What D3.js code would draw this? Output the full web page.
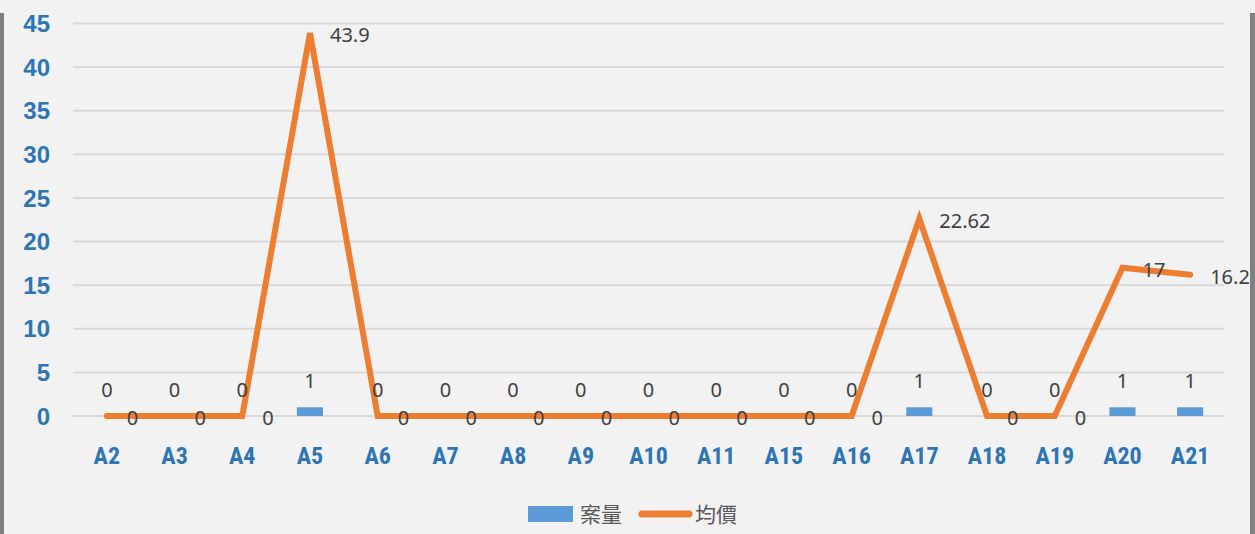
<!DOCTYPE html>
<html>
<head>
<meta charset="utf-8">
<script src="https://cdn.jsdelivr.net/npm/d3@7"></script>
<style>
  html, body { margin: 0; padding: 0; background: #f2f2f2; }
  svg { display: block; }
</style>
</head>
<body>
<svg id="chart" width="1255" height="534"></svg>
<script>
// chart data
const categories = ['A2', 'A3', 'A4', 'A5', 'A6', 'A7', 'A8', 'A9', 'A10', 'A11', 'A15', 'A16', 'A17', 'A18', 'A19', 'A20', 'A21'];
const caseCounts = [0, 0, 0, 1, 0, 0, 0, 0, 0, 0, 0, 0, 1, 0, 0, 1, 1];
const avgPrices = [0, 0, 0, 43.9, 0, 0, 0, 0, 0, 0, 0, 0, 22.62, 0, 0, 17, 16.2];
const yTicks = [0, 5, 10, 15, 20, 25, 30, 35, 40, 45];
const seriesNames = ['案量', '均價'];

(function () {
  const svg = d3.select('#chart');
  const width = +svg.attr('width');
  const height = +svg.attr('height');

  const blue = '#5b9bd5';
  const orange = '#ed7d31';
  const axisBlue = '#2e75b6';
  const labelColor = '#404040';

  svg.append('rect')
    .attr('width', width)
    .attr('height', height)
    .attr('fill', '#f2f2f2');

  // side borders
  svg.append('rect').attr('x', 0).attr('y', 13).attr('width', 4).attr('height', height - 13).attr('fill', '#808080');
  svg.append('rect').attr('x', 1250).attr('y', 13).attr('width', 5).attr('height', height - 13).attr('fill', '#808080');

  const x = d3.scaleBand()
    .domain(categories)
    .range([73, 1224])
    .padding(0);

  const y = d3.scaleLinear()
    .domain([0, 45])
    .range([416, 23.5]);

  // gridlines
  svg.append('g')
    .selectAll('line')
    .data(yTicks)
    .enter()
    .append('line')
    .attr('x1', 73)
    .attr('x2', 1224)
    .attr('y1', d => y(d))
    .attr('y2', d => y(d))
    .attr('stroke', '#d9d9d9')
    .attr('stroke-width', 2);

  // y tick labels
  svg.append('g')
    .selectAll('text')
    .data(yTicks)
    .enter()
    .append('text')
    .attr('x', 50)
    .attr('y', d => y(d))
    .attr('dy', '0.36em')
    .attr('text-anchor', 'end')
    .attr('font-family', '"Liberation Sans", Arial, sans-serif')
    .attr('font-weight', 'bold')
    .attr('font-size', 24)
    .attr('fill', axisBlue)
    .text(d => d);

  // x tick labels
  svg.append('g')
    .selectAll('text')
    .data(categories)
    .enter()
    .append('text')
    .attr('x', d => x(d) + x.bandwidth() / 2)
    .attr('y', 464)
    .attr('text-anchor', 'middle')
    .attr('font-family', '"Liberation Sans Narrow", "Roboto Condensed", Roboto, sans-serif')
    .attr('font-weight', 'bold')
    .attr('font-size', 24)
    .attr('fill', axisBlue)
    .text(d => d);

  const barW = x.bandwidth() * 0.385;
  const rows = categories.map((c, i) => ({ c, n: caseCounts[i], p: avgPrices[i] }));

  // bars
  svg.append('g')
    .selectAll('rect')
    .data(rows)
    .enter()
    .append('rect')
    .attr('x', d => x(d.c) + x.bandwidth() / 2 - barW / 2)
    .attr('y', d => y(d.n))
    .attr('width', barW)
    .attr('height', d => y(0) - y(d.n))
    .attr('fill', blue);

  // line
  const line = d3.line()
    .x(d => x(d.c) + x.bandwidth() / 2)
    .y(d => y(d.p));

  svg.append('path')
    .datum(rows)
    .attr('d', line)
    .attr('fill', 'none')
    .attr('stroke', orange)
    .attr('stroke-width', 6)
    .attr('stroke-linecap', 'round')
    .attr('stroke-linejoin', 'miter');

  // bar labels
  svg.append('g')
    .selectAll('text')
    .data(rows)
    .enter()
    .append('text')
    .attr('x', d => x(d.c) + x.bandwidth() / 2)
    .attr('y', d => y(d.n) - 19)
    .attr('text-anchor', 'middle')
    .attr('font-family', '"Noto Sans", sans-serif')
    .attr('font-size', 20)
    .attr('fill', labelColor)
    .text(d => d.n);

  // line labels
  svg.append('g')
    .selectAll('text')
    .data(rows)
    .enter()
    .append('text')
    .attr('x', d => x(d.c) + x.bandwidth() / 2 + 20)
    .attr('y', d => y(d.p) + 2)
    .attr('dy', '0.36em')
    .attr('font-family', '"Noto Sans", sans-serif')
    .attr('font-size', 20)
    .attr('fill', labelColor)
    .text(d => d.p);

  // legend
  const legend = svg.append('g').attr('font-family', '"Noto Sans CJK TC", "Noto Sans", sans-serif').attr('font-size', 21).attr('fill', '#595959');
  legend.append('rect').attr('x', 528).attr('y', 506).attr('width', 45).attr('height', 16).attr('fill', blue);
  legend.append('text').attr('x', 580).attr('y', 514).attr('dy', '0.36em').text(seriesNames[0]);
  legend.append('line').attr('x1', 642).attr('x2', 689).attr('y1', 514).attr('y2', 514)
    .attr('stroke', orange).attr('stroke-width', 7).attr('stroke-linecap', 'round');
  legend.append('text').attr('x', 695).attr('y', 514).attr('dy', '0.36em').text(seriesNames[1]);
})();
</script>
</body>
</html>
